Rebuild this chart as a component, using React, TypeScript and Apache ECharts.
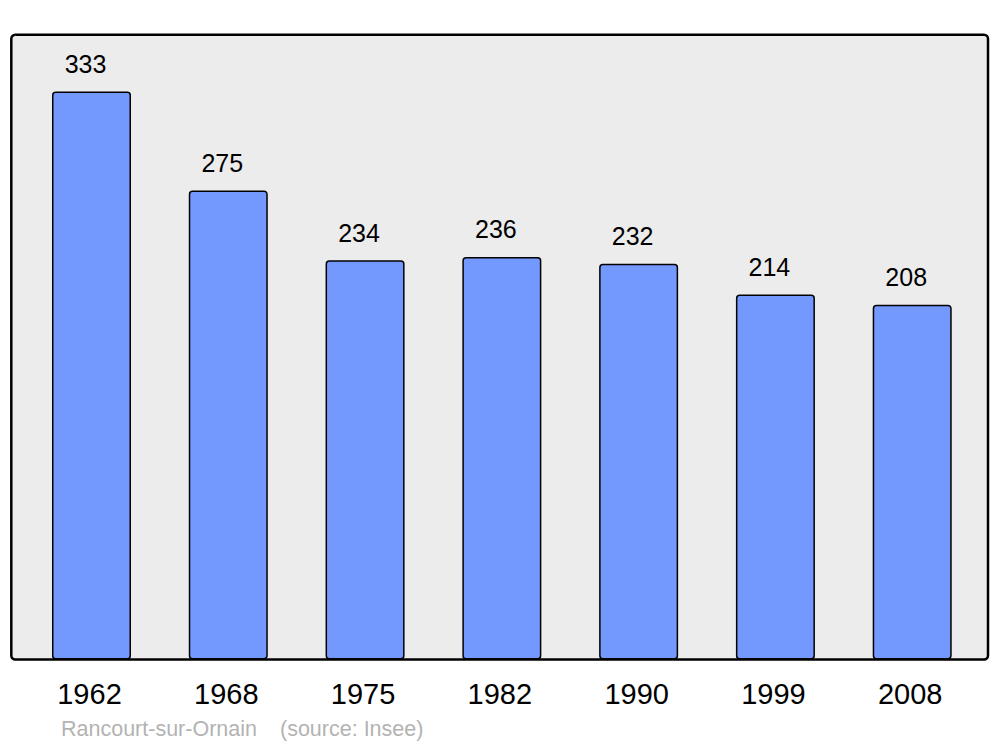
import React, { useEffect, useRef } from "react";
import * as echarts from "echarts";

const years = ["1962", "1968", "1975", "1982", "1990", "1999", "2008"];
const population = [333, 275, 234, 236, 232, 214, 208];
const placeName = "Rancourt-sur-Ornain";
const sourceText = "(source: Insee)";

export default function App() {
  const ref = useRef<HTMLDivElement>(null);
  useEffect(() => {
    if (!ref.current) return;
    const chart = echarts.init(ref.current, null, { renderer: "svg" });
    const font = "Liberation Sans, Arial, sans-serif";
    chart.setOption({
      animation: false,
      backgroundColor: "#ffffff",
      graphic: [
        {
          type: "rect",
          z: -10,
          shape: { x: 11.3, y: 34.7, width: 976.7, height: 624.8, r: 4 },
          style: { fill: "#ececec", stroke: "#000000", lineWidth: 2.5 },
        },
        {
          type: "text",
          x: 61,
          y: 729,
          style: {
            text: placeName,
            fill: "#b3b3b3",
            font: `21.5px ${font}`,
            textVerticalAlign: "middle",
          },
        },
        {
          type: "text",
          x: 280,
          y: 729,
          style: {
            text: sourceText,
            fill: "#b3b3b3",
            font: `21.5px ${font}`,
            textVerticalAlign: "middle",
          },
        },
      ],
      grid: { left: 23.1, right: 19.4, top: 34.7, bottom: 87.5, containLabel: false },
      xAxis: {
        type: "category",
        data: years,
        axisLine: { show: false },
        axisTick: { show: false },
        axisLabel: {
          fontSize: 29,
          color: "#000",
          fontFamily: font,
          margin: 20,
          padding: [0, 4, 0, 0],
        },
      },
      yAxis: {
        type: "value",
        min: 0,
        max: 366.3,
        show: false,
        splitLine: { show: false },
      },
      series: [
        {
          type: "bar",
          data: population,
          barWidth: 79,
          itemStyle: {
            color: "#7399ff",
            borderColor: "#000000",
            borderWidth: 1.5,
            borderRadius: 3,
          },
          label: {
            show: true,
            position: "top",
            distance: 15,
            offset: [-6, 0],
            fontSize: 25,
            color: "#000",
            fontFamily: font,
          },
        },
      ],
    });
    return () => chart.dispose();
  }, []);
  return (
    <div
      ref={ref}
      style={{ position: "absolute", left: 0, top: 0, width: 1000, height: 747 }}
    />
  );
}
